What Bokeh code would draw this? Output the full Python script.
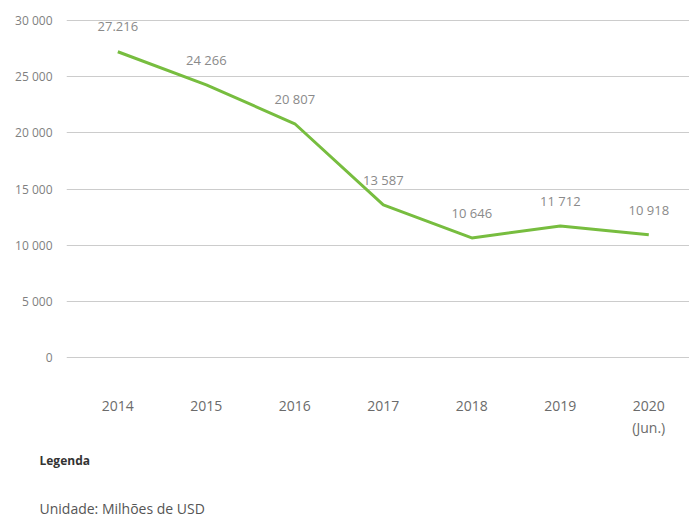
from bokeh.plotting import figure
from bokeh.models import Range1d, FixedTicker, ColumnDataSource, LabelSet, Title
from bokeh.core.properties import value
from bokeh.embed import file_html
from bokeh.resources import INLINE

years = ["2014", "2015", "2016", "2017", "2018", "2019", "2020\n(Jun.)"]
values = [27216, 24266, 20807, 13587, 10646, 11712, 10918]
value_labels = ["27.216", "24 266", "20 807", "13 587", "10 646", "11 712", "10 918"]
y_ticks = [0, 5000, 10000, 15000, 20000, 25000, 30000]
y_tick_labels = ["0", "5 000", "10 000", "15 000", "20 000", "25 000", "30 000"]

FONT = "Open Sans"
idx = list(range(len(years)))

p = figure(width=689, height=518, output_backend="svg", toolbar_location=None,
           x_range=Range1d(-0.58, 6.46), y_range=Range1d(-1602, 30534),
           min_border_left=66, min_border_right=0, min_border_top=14, min_border_bottom=143)
p.outline_line_color = None
p.background_fill_color = "white"
p.border_fill_color = "white"

src = ColumnDataSource(dict(x=idx, y=values, lab=value_labels))
p.line("x", "y", source=src, line_color="#77bd3f", line_width=3)

labels = LabelSet(x="x", y="y", text="lab", source=src, y_offset=25,
                  text_align="center", text_baseline="middle",
                  text_font=value(FONT), text_font_size=value("13px"),
                  text_color=value("#8a8a8a"))
p.add_layout(labels)

# y axis
p.yaxis.ticker = FixedTicker(ticks=y_ticks)
p.yaxis.major_label_overrides = {t: l for t, l in zip(y_ticks, y_tick_labels)}
p.yaxis.axis_line_color = None
p.yaxis.major_tick_line_color = None
p.yaxis.minor_tick_line_color = None
p.yaxis.major_tick_out = 0
p.yaxis.major_label_standoff = 14
p.yaxis.major_label_text_font = FONT
p.yaxis.major_label_text_font_size = "12px"
p.yaxis.major_label_text_color = "#7f7f7f"

# x axis
p.xaxis.ticker = FixedTicker(ticks=idx)
p.xaxis.major_label_overrides = {i: y for i, y in zip(idx, years)}
p.xaxis.axis_line_color = None
p.xaxis.major_tick_line_color = None
p.xaxis.minor_tick_line_color = None
p.xaxis.major_tick_out = 0
p.xaxis.major_label_standoff = 20
p.xaxis.major_label_text_font = FONT
p.xaxis.major_label_text_font_size = "14px"
p.xaxis.major_label_text_color = "#6b6b6b"

p.xgrid.grid_line_color = None
p.ygrid.ticker = FixedTicker(ticks=y_ticks)
p.ygrid.grid_line_color = "#cccccc"
p.ygrid.grid_line_width = 1

p.add_layout(Title(text="Legenda", align="left", offset=-27, standoff=18,
                   text_font=FONT, text_font_size="12px", text_font_style="bold",
                   text_color="#333333"), "below")
p.add_layout(Title(text="\nUnidade: Milhões de USD", align="left", offset=-27, standoff=0,
                   text_font=FONT, text_font_size="14px", text_font_style="normal",
                   text_line_height=1.0, text_color="#555555"), "below")

open("out.html", "w").write(file_html(p, INLINE))
